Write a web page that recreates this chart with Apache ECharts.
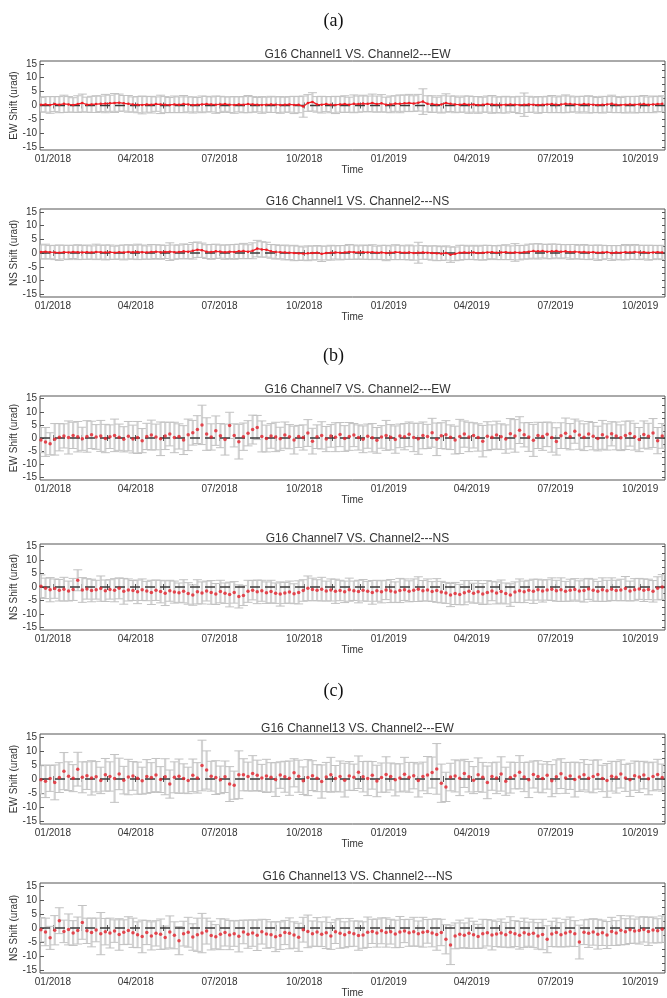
<!DOCTYPE html>
<html>
<head>
<meta charset="utf-8">
<script src="https://cdn.jsdelivr.net/npm/echarts@6/dist/echarts.min.js"></script>
<style>html,body{margin:0;padding:0;background:#fff;}#c{width:667px;height:998px;}</style>
</head>
<body>
<div id="c"></div>
<script>
// ---------- data (one value every 5 days, starting 2017-12-19) ----------
const startDay = [2017, 12, 19];
const stepDays = 5;

const sectionLabels = ['(a)', '(b)', '(c)'];
const panelTitles = [
  'G16 Channel1 VS. Channel2---EW',
  'G16 Channel1 VS. Channel2---NS',
  'G16 Channel7 VS. Channel2---EW',
  'G16 Channel7 VS. Channel2---NS',
  'G16 Channel13 VS. Channel2---EW',
  'G16 Channel13 VS. Channel2---NS'
];
const yNames = ['EW Shift (urad)', 'NS Shift (urad)', 'EW Shift (urad)', 'NS Shift (urad)', 'EW Shift (urad)', 'NS Shift (urad)'];
const xTickLabels = ['01/2018', '04/2018', '07/2018', '10/2018', '01/2019', '04/2019', '07/2019', '10/2019'];
const yTickLabels = [-15, -10, -5, 0, 5, 10, 15];

const ch1EW = [
 0.3,0.4,0.2,0.5,0.3,0.6,0.4,0.2,0.5,0.9,
 0.3,0.4,0.5,0.6,0.7,0.8,0.9,1.0,0.8,0.6,
 0.4,0.3,0.2,0.4,0.3,0.5,0.4,0.3,0.2,0.4,
 0.3,0.5,0.4,0.2,0.3,0.4,0.5,0.4,0.3,0.4,
 0.5,0.3,0.2,0.4,0.3,0.5,0.4,0.3,0.2,0.3,
 0.4,0.3,0.2,0.3,0.4,0.2,0.3,-0.4,0.9,1.3,
 0.4,0.3,0.5,0.3,0.2,0.4,0.5,0.3,0.6,0.5,
 0.7,0.6,0.9,0.5,0.8,0.3,0.4,0.7,0.6,0.8,
 0.9,0.7,1.0,1.4,0.6,0.5,0.3,0.4,0.9,0.6,
 0.4,0.3,0.5,0.3,0.4,0.2,0.3,0.5,0.4,0.3,
 0.2,0.3,0.4,0.3,0.2,0.3,0.4,0.3,0.2,0.3,
 0.4,0.5,0.3,0.4,0.6,0.5,0.4,0.3,0.5,0.4,
 0.3,0.2,0.3,0.4,0.6,0.3,0.2,0.3,0.4,0.3,
 0.4,0.5,0.3,0.4,0.5,0.6];
const ch1EWErr = [
 2.6,2.8,3.0,2.7,2.9,3.1,2.8,2.6,3.0,3.2,
 2.7,2.9,3.0,2.8,3.3,2.9,3.4,3.1,2.8,3.0,
 2.7,2.9,3.2,2.8,3.0,2.6,3.3,2.9,2.7,3.0,
 2.8,3.1,2.7,2.9,2.6,3.0,2.8,2.7,3.1,2.9,
 2.6,2.8,3.0,2.7,2.9,3.1,2.8,2.6,3.0,2.7,
 2.9,2.8,3.0,2.7,2.8,3.1,2.9,3.8,3.0,3.3,
 2.8,3.0,2.7,2.9,3.1,2.8,3.0,2.7,3.2,2.9,
 3.0,2.8,3.2,2.9,3.1,2.7,3.0,2.8,3.2,2.9,
 3.1,2.8,3.0,4.6,2.9,3.0,2.7,3.1,3.3,2.8,
 3.0,2.7,2.9,3.1,2.8,3.0,2.7,2.9,3.2,2.8,
 2.9,3.0,2.7,2.8,3.1,4.2,2.9,2.7,3.0,2.8,
 2.9,3.1,2.8,3.0,3.2,2.9,2.7,3.0,2.8,3.1,
 2.9,2.7,3.0,2.8,3.1,2.9,2.7,3.0,2.8,3.0,
 2.9,3.1,2.8,3.0,2.7,2.9];

const ch1NS = [
 0.4,0.5,0.3,0.2,0.1,0.3,0.2,0.4,0.3,0.2,
 0.3,0.2,0.4,0.3,0.2,0.3,0.1,0.3,0.2,0.4,
 0.3,0.4,0.3,0.2,0.4,0.5,0.3,0.4,0.5,0.3,
 0.4,0.6,0.5,0.8,1.2,1.0,0.5,0.4,0.6,0.5,
 0.3,0.5,0.4,0.6,0.7,0.5,0.8,1.6,1.3,1.2,
 0.6,0.4,0.3,0.2,0.1,0.0,-0.1,-0.2,-0.1,0.0,
 0.1,-0.3,0.0,0.1,0.2,0.1,0.2,0.4,0.3,0.2,
 0.3,0.2,0.3,0.1,0.2,0.0,0.1,0.3,0.2,0.1,
 0.2,0.0,0.1,0.2,0.1,0.0,-0.1,-0.2,0.0,-0.6,
 -0.3,0.1,0.2,0.1,0.2,0.0,0.1,0.2,0.3,0.1,
 0.2,0.3,0.1,0.2,0.1,0.3,0.5,0.7,0.6,0.7,
 0.5,0.6,0.7,0.5,0.6,0.4,0.5,0.3,0.4,0.2,
 0.3,0.1,0.2,0.3,0.0,0.2,0.1,0.3,0.2,0.4,
 0.2,0.3,0.1,0.2,0.3,0.2];
const ch1NSErr = [
 2.5,2.7,2.4,2.6,2.8,2.5,2.6,2.4,2.7,2.5,
 2.6,2.4,2.8,2.5,2.7,2.6,2.4,2.5,2.7,2.6,
 2.5,2.8,2.6,2.4,2.7,2.5,2.6,2.4,3.2,2.6,
 2.5,2.7,2.6,3.0,2.8,2.6,2.5,2.7,2.6,2.4,
 2.6,2.5,2.7,2.6,2.8,2.5,2.9,3.0,2.8,2.7,
 2.5,2.6,2.4,2.7,2.5,2.8,2.6,2.4,2.7,2.5,
 2.6,2.8,2.5,2.7,2.4,2.6,2.5,2.7,2.6,2.4,
 2.6,2.5,2.7,2.4,2.6,2.8,2.5,2.7,2.6,2.5,
 2.7,2.6,3.8,2.5,2.4,2.6,2.7,2.5,2.6,2.8,
 2.5,2.7,2.6,2.4,2.6,2.5,2.7,2.6,2.4,2.5,
 2.6,2.7,2.5,3.2,2.6,2.5,2.7,2.6,2.8,2.5,
 2.6,2.7,2.5,2.6,2.4,2.7,2.6,2.5,2.7,2.6,
 2.5,2.8,2.6,2.4,2.7,2.5,2.6,2.8,2.5,2.7,
 2.6,2.5,2.7,2.6,2.4,2.6];

const ch7EW = [
 -0.8,-1.5,-2.2,-0.5,0.3,0.8,0.2,1.0,0.5,-0.3,
 0.6,1.2,0.4,0.8,-0.2,0.5,1.0,0.3,-0.5,0.7,
 -0.4,0.2,-1.0,0.6,1.1,0.4,-0.3,0.8,1.5,0.2,
 0.6,-0.8,1.2,2.0,3.2,5.0,1.5,0.4,2.8,0.9,
 -0.6,4.8,1.0,-1.4,0.5,1.8,3.2,4.0,0.6,-0.2,
 0.8,0.4,-0.3,1.1,0.5,-0.8,0.6,0.2,1.9,-1.2,
 0.5,1.0,-0.4,0.8,0.3,1.3,-0.2,0.6,1.1,0.2,
 -0.5,0.7,0.1,-0.9,0.4,1.0,0.3,-0.6,0.8,0.5,
 1.4,0.2,-0.3,1.0,0.6,2.0,-0.5,0.9,1.2,0.3,
 -0.8,0.6,1.5,0.4,1.0,0.2,-1.2,0.7,0.3,1.1,
 0.5,-0.4,1.6,0.8,3.0,1.2,0.4,-0.9,1.0,0.6,
 1.4,0.2,-1.3,0.9,1.8,0.5,2.6,1.1,0.3,1.5,
 0.7,-0.2,1.2,0.4,1.6,0.8,0.1,1.0,1.7,0.5,
 -0.6,1.3,0.7,1.9,-1.0,0.8];
const ch7EWErr = [
 4.8,5.5,4.2,6.0,5.2,4.6,6.3,5.0,5.8,4.4,
 6.0,5.2,4.7,5.9,5.4,4.5,6.2,5.0,4.8,5.6,
 5.3,6.1,4.6,5.0,5.7,4.9,6.4,5.2,4.5,5.8,
 4.8,5.5,6.0,4.7,5.3,7.5,6.2,5.0,5.6,4.6,
 5.9,5.0,4.4,6.6,5.2,4.8,5.5,4.6,5.9,5.1,
 4.7,5.6,4.4,5.0,4.6,5.3,4.2,4.8,5.1,4.9,
 4.5,5.2,4.8,4.3,5.5,4.6,4.9,5.3,4.4,4.8,
 5.1,4.6,5.4,4.9,4.3,5.7,4.8,5.2,4.5,5.0,
 4.7,5.4,5.9,5.1,4.6,5.5,6.2,4.9,5.4,4.7,
 5.3,6.5,5.0,5.6,4.8,5.2,6.0,5.5,4.7,5.3,
 4.9,5.4,5.8,6.2,5.1,4.6,5.5,6.1,5.0,5.3,
 4.7,5.6,5.2,4.9,5.8,5.0,4.6,5.4,5.1,4.8,
 5.2,4.7,5.5,5.0,4.6,5.3,4.9,5.4,4.8,5.1,
 4.6,5.2,4.9,5.5,5.0,4.7];

const ch7NS = [
 0.3,-0.5,-1.0,-0.6,-1.2,-0.8,-1.5,-0.9,2.5,-1.1,
 -0.7,-1.3,-1.0,-0.6,-1.4,-0.9,-1.2,-0.5,-1.6,-1.1,
 -1.3,-1.8,-1.0,-1.5,-2.0,-1.2,-1.7,-2.3,-1.4,-1.9,
 -2.1,-1.6,-2.4,-3.0,-1.8,-2.2,-1.5,-2.0,-2.6,-1.7,
 -2.3,-2.8,-2.0,-3.5,-3.2,-1.6,-1.2,-1.8,-1.4,-2.1,
 -1.7,-2.3,-2.6,-2.2,-1.9,-2.5,-2.0,-1.3,-0.5,-0.9,
 -1.2,-0.8,-1.5,-1.1,-1.6,-1.3,-1.8,-1.0,-1.4,-1.7,
 -1.2,-1.6,-2.0,-1.4,-1.8,-1.1,-1.5,-1.9,-1.3,-1.0,
 -1.6,-1.2,-0.8,-1.4,-1.1,-1.7,-1.3,-1.9,-2.2,-3.0,
 -2.4,-2.8,-2.1,-1.6,-2.3,-1.8,-2.6,-2.0,-1.5,-2.2,
 -1.7,-2.4,-3.0,-1.9,-1.4,-1.8,-1.2,-1.6,-1.0,-1.5,
 -1.1,-0.8,-1.4,-1.0,-1.6,-1.2,-0.9,-1.5,-1.3,-0.7,
 -1.2,-1.6,-1.0,-1.4,-0.8,-1.3,-1.1,-0.6,-1.5,-1.0,
 -0.7,-1.2,-0.9,-1.6,-0.5,0.0];
const ch7NSErr = [
 4.2,3.8,4.5,3.6,4.0,4.4,3.7,4.1,3.9,4.6,
 3.8,4.2,3.5,4.7,4.0,3.6,4.3,3.9,4.8,4.1,
 3.7,4.4,4.0,3.6,4.5,3.8,4.2,4.6,3.9,4.1,
 3.6,4.3,4.0,3.8,4.5,4.1,3.7,4.4,3.9,4.2,
 3.8,4.6,4.0,4.3,3.7,4.1,3.6,4.4,3.9,4.0,
 4.2,3.8,4.5,3.9,4.1,3.7,4.3,4.0,4.6,4.2,
 3.9,4.4,3.7,4.1,4.5,3.8,4.0,4.3,3.6,4.2,
 4.0,3.7,4.4,3.9,4.1,3.6,4.3,3.8,4.5,4.0,
 3.9,4.2,4.6,3.8,4.1,3.7,4.4,4.0,3.9,4.3,
 4.1,3.8,4.5,4.0,3.7,4.2,3.9,4.4,3.6,4.1,
 4.3,3.9,4.2,3.8,4.4,4.0,3.7,4.5,3.9,4.1,
 3.8,4.2,3.9,4.4,3.7,4.1,4.0,3.8,4.3,3.9,
 4.1,3.7,4.4,3.9,4.2,3.8,4.0,4.5,3.7,4.1,
 3.9,4.2,3.8,4.0,4.3,4.6];

const ch13EW = [
 -0.3,-0.8,0.2,-1.2,0.5,2.8,1.0,0.3,3.5,0.6,
 1.2,0.4,0.8,-0.5,1.5,0.9,0.2,1.8,-0.4,0.7,
 1.1,0.3,-0.6,0.9,0.5,1.4,-0.2,0.8,-1.8,0.6,
 1.0,0.2,-0.5,1.3,0.4,4.8,3.2,1.0,0.5,-0.3,
 0.8,-1.8,-2.2,1.5,1.5,0.9,2.0,1.3,0.4,1.1,
 0.6,-0.2,1.4,0.8,0.3,2.2,1.0,-0.6,0.5,1.2,
 0.3,-0.9,0.7,1.5,0.2,0.9,-0.4,1.1,0.6,2.4,
 0.8,0.2,1.3,-0.7,0.5,1.6,0.9,-0.3,0.4,1.7,
 0.6,1.2,-0.5,0.9,1.4,2.3,3.6,-1.5,-2.8,0.7,
 1.1,0.3,2.0,0.8,-0.4,1.5,0.6,-1.2,0.9,0.4,
 1.8,-0.8,0.5,1.2,2.4,0.7,-0.3,1.6,0.9,0.2,
 1.3,-0.6,0.8,1.9,0.4,1.1,-0.2,0.7,1.5,0.3,
 0.9,1.6,0.2,-0.5,1.0,0.6,1.8,0.4,-0.3,1.2,
 0.7,1.4,0.1,0.9,1.6,0.5];
const ch13EWErr = [
 5.0,5.8,4.6,6.2,5.3,6.6,5.1,4.8,6.0,5.5,
 4.9,6.1,5.4,4.7,5.8,5.2,8.5,5.6,4.9,6.3,
 5.1,5.7,4.8,6.0,5.3,5.9,4.6,6.4,5.0,5.5,
 6.1,5.2,4.7,5.8,5.4,9.0,6.8,5.3,6.0,4.9,
 5.6,6.2,5.0,8.5,5.7,5.1,6.3,5.4,4.8,5.9,
 5.2,6.0,4.7,5.5,6.1,5.0,5.7,4.9,6.4,5.3,
 4.8,5.9,5.2,6.2,4.6,5.5,6.0,5.1,4.7,5.8,
 5.4,6.1,4.9,5.6,5.2,6.3,4.8,5.7,5.0,6.0,
 5.3,4.7,5.9,5.1,6.6,5.5,9.0,6.8,5.2,4.9,
 5.7,6.2,5.0,5.4,4.8,6.0,5.3,5.8,4.9,5.6,
 6.1,5.0,5.5,4.7,5.9,5.2,6.3,4.8,5.6,5.1,
 4.9,5.7,6.0,5.3,5.5,4.8,6.2,5.1,5.4,4.9,
 5.8,5.2,4.7,6.0,5.3,5.6,5.0,4.8,5.9,5.2,
 5.5,4.9,5.7,5.1,5.4,4.8];

const ch13NS = [
 -0.6,-1.4,-3.5,-0.8,2.6,-1.2,-0.5,-1.8,-0.9,2.0,
 -1.0,-1.6,-0.7,-2.0,-1.3,-1.8,-1.1,-2.3,-1.5,-0.9,
 -1.7,-2.4,-3.0,-1.6,-2.8,-1.9,-2.2,-3.4,-1.4,-2.6,
 -4.5,-2.0,-1.5,-3.2,-2.4,-1.8,-1.1,-2.7,-3.1,-2.2,
 -1.6,-2.5,-2.0,-2.9,-1.4,-2.2,-1.8,-2.6,-1.3,-2.1,
 -2.4,-3.1,-2.7,-1.6,-1.9,-2.5,-3.3,-0.6,-1.2,-2.0,
 -1.4,-2.2,-1.7,-2.8,-1.3,-1.9,-2.4,-1.6,-2.0,-2.7,
 -2.5,-1.5,-1.2,-1.8,-1.0,-1.6,-1.3,-2.1,-1.4,-1.1,
 -1.7,-1.3,-2.0,-1.5,-1.2,-1.8,-2.3,-1.6,-4.0,-6.0,
 -2.8,-2.2,-2.6,-1.9,-2.4,-3.0,-2.0,-1.7,-2.5,-2.1,
 -1.8,-2.4,-1.5,-2.0,-2.6,-1.7,-2.2,-1.9,-2.8,-2.3,
 -4.0,-2.1,-1.6,-2.4,-1.8,-1.3,-2.0,-5.0,-1.5,-1.9,
 -1.4,-2.2,-1.7,-2.5,-1.2,-1.8,-0.8,-1.3,-0.6,-1.1,
 -0.9,-0.5,-1.2,-0.7,-1.0,-0.4];
const ch13NSErr = [
 4.3,4.9,4.1,5.2,4.6,4.0,5.5,4.4,4.8,6.0,
 4.5,5.1,4.2,7.5,4.7,5.3,4.0,5.6,4.4,4.9,
 5.2,4.6,5.8,4.3,5.0,4.5,5.4,4.1,5.7,4.8,
 5.0,4.4,5.3,4.7,5.9,7.0,4.6,5.1,4.3,5.5,
 4.8,5.2,4.5,5.6,4.2,5.0,4.7,5.4,4.4,5.1,
 4.6,5.3,4.9,4.3,5.5,4.7,5.0,4.4,5.8,4.5,
 5.1,4.4,5.6,4.8,4.2,5.3,4.6,5.0,4.5,5.2,
 4.7,5.4,4.3,5.0,4.6,5.2,4.4,4.9,5.5,4.1,
 4.8,5.1,4.5,5.3,4.2,4.9,5.6,4.7,5.2,7.0,
 4.6,5.0,4.4,5.4,4.8,4.3,5.1,4.7,5.3,4.5,
 5.0,4.4,5.5,4.6,4.9,5.2,4.3,5.0,4.7,5.4,
 4.8,4.5,5.1,4.3,4.9,5.2,4.6,6.0,4.4,5.0,
 4.7,5.3,4.5,4.8,5.0,4.4,5.2,4.6,4.9,4.3,
 4.8,4.5,5.0,4.6,4.3,4.7];

const panelValues = [ch1EW, ch1NS, ch7EW, ch7NS, ch13EW, ch13NS];
const panelErrors = [ch1EWErr, ch1NSErr, ch7EWErr, ch7NSErr, ch13EWErr, ch13NSErr];

// ---------- layout ----------
const FONT = '"Liberation Sans", Arial, sans-serif';
const gridTops = [61, 209, 396, 544, 734, 883];
const gridHeights = [89, 88, 84, 86, 90, 90];
const titleCenters = [52, 199, 387, 536, 726, 874];
const sectionCenters = [18, 353, 688];
const GL = 40, GR = 2;

const DAY = 86400000;
const t0 = Date.UTC(startDay[0], startDay[1] - 1, startDay[2]);
const xMin = Date.UTC(2017, 11, 18);
const xMax = Date.UTC(2019, 9, 28);
const xLabelVals = xTickLabels.map(s => { const [m, y] = s.split('/'); return Date.UTC(+y, +m - 1, 1); });
const monthTicks = [];
for (let m = 0; m < 22; m++) monthTicks.push(Date.UTC(2018, m, 1));
const yMinorTicks = [];
for (let v = -15; v <= 15; v += 2.5) yMinorTicks.push(v);

function fmtDate(v) {
  const idx = xLabelVals.indexOf(v);
  if (idx >= 0) return xTickLabels[idx];
  const d = new Date(v);
  const m = d.getUTCMonth() + 1;
  return (m < 10 ? '0' + m : '' + m) + '/' + d.getUTCFullYear();
}

const grids = [], xAxes = [], yAxes = [], series = [], titles = [];
const axisColor = '#555';

sectionLabels.forEach((s, i) => {
  titles.push({ text: s, left: 'center', top: sectionCenters[i] - 11,
    textStyle: { fontFamily: '"Liberation Serif", "Times New Roman", serif', fontSize: 18, fontWeight: 'normal', color: '#111' } });
});

function errRender(params, api) {
  const x = api.value(0), lo = api.value(1), hi = api.value(2);
  const a = api.coord([x, hi]), b = api.coord([x, lo]);
  const hw = 4.5;
  const stem = { stroke: '#d2d2d2', lineWidth: 2.2 };
  const cap = { stroke: '#c2c2c2', lineWidth: 1 };
  return { type: 'group', children: [
    { type: 'line', shape: { x1: a[0], y1: a[1], x2: b[0], y2: b[1] }, style: stem },
    { type: 'line', shape: { x1: a[0] - hw, y1: a[1], x2: a[0] + hw, y2: a[1] }, style: cap },
    { type: 'line', shape: { x1: b[0] - hw, y1: b[1], x2: b[0] + hw, y2: b[1] }, style: cap }
  ] };
}

panelTitles.forEach((title, k) => {
  grids.push({ left: GL, right: GR, top: gridTops[k], height: gridHeights[k],
    containLabel: false, outerBoundsMode: 'none',
    show: true, borderColor: axisColor, borderWidth: 1, backgroundColor: 'transparent' });
  titles.push({ text: title, left: GL + (667 - GL - GR) / 2, textAlign: 'center', top: titleCenters[k] - 8,
    textStyle: { fontFamily: FONT, fontSize: 12, fontWeight: 'normal', color: '#333' } });

  xAxes.push({ type: 'value', gridIndex: k, position: 'bottom', min: xMin, max: xMax,
    name: 'Time', nameLocation: 'middle', nameGap: 15, nameMoveOverlap: false,
    nameTextStyle: { fontFamily: FONT, fontSize: 10, color: '#333' },
    axisLine: { show: false }, splitLine: { show: false },
    axisTick: { show: true, inside: true, length: 3, customValues: monthTicks, lineStyle: { color: axisColor } },
    axisLabel: { customValues: xLabelVals, formatter: fmtDate, margin: 4, fontFamily: FONT, fontSize: 10, color: '#333', hideOverlap: false } });
  xAxes.push({ type: 'value', gridIndex: k, position: 'top', min: xMin, max: xMax,
    axisLine: { show: false }, splitLine: { show: false },
    axisTick: { show: true, inside: true, length: 3, customValues: monthTicks, lineStyle: { color: axisColor } },
    axisLabel: { show: false } });

  yAxes.push({ type: 'value', gridIndex: k, position: 'left', min: -16, max: 16,
    name: yNames[k], nameLocation: 'middle', nameGap: 21, nameRotate: 90, nameMoveOverlap: false,
    nameTextStyle: { fontFamily: FONT, fontSize: 10, color: '#333' },
    axisLine: { show: false }, splitLine: { show: false },
    axisTick: { show: true, inside: true, length: 4, customValues: yTickLabels, lineStyle: { color: axisColor } },
    axisLabel: { customValues: yTickLabels, margin: 3, fontFamily: FONT, fontSize: 10, color: '#333' } });
  yAxes.push({ type: 'value', gridIndex: k, position: 'right', min: -16, max: 16,
    axisLine: { show: false }, splitLine: { show: false },
    axisTick: { show: true, inside: true, length: 3, customValues: yMinorTicks, lineStyle: { color: axisColor } },
    axisLabel: { show: false } });

  const vals = panelValues[k], errs = panelErrors[k];
  const dates = vals.map((_, i) => t0 + i * stepDays * DAY);
  const errData = vals.map((v, i) => [dates[i], +(v - errs[i]).toFixed(2), +(v + errs[i]).toFixed(2)]);
  const ptData = vals.map((v, i) => [dates[i], v]);

  series.push({ type: 'custom', xAxisIndex: 2 * k, yAxisIndex: 2 * k, renderItem: errRender,
    encode: { x: 0, y: [1, 2] }, data: errData, clip: true, silent: true, z: 1 });
  series.push({ type: 'line', xAxisIndex: 2 * k, yAxisIndex: 2 * k, data: [[xMin, 0], [xMax, 0]],
    showSymbol: false, silent: true, z: 2,
    lineStyle: { color: '#3a3a3a', width: 1.5, type: [10, 5] } });
  if (k < 2) {
    series.push({ type: 'line', xAxisIndex: 2 * k, yAxisIndex: 2 * k, data: ptData, z: 3,
      symbol: 'circle', symbolSize: 2.5, showSymbol: true, silent: true,
      itemStyle: { color: '#f01c24' }, lineStyle: { color: '#f01c24', width: 1.3 } });
  } else {
    series.push({ type: 'scatter', xAxisIndex: 2 * k, yAxisIndex: 2 * k, data: ptData, z: 3,
      symbol: 'circle', symbolSize: 3.5, silent: true, itemStyle: { color: '#e3202a' } });
  }
});

const chart = echarts.init(document.getElementById('c'), null, { renderer: 'canvas' });
chart.setOption({
  animation: false,
  backgroundColor: '#fff',
  title: titles,
  grid: grids,
  xAxis: xAxes,
  yAxis: yAxes,
  series: series
});
</script>
</body>
</html>
